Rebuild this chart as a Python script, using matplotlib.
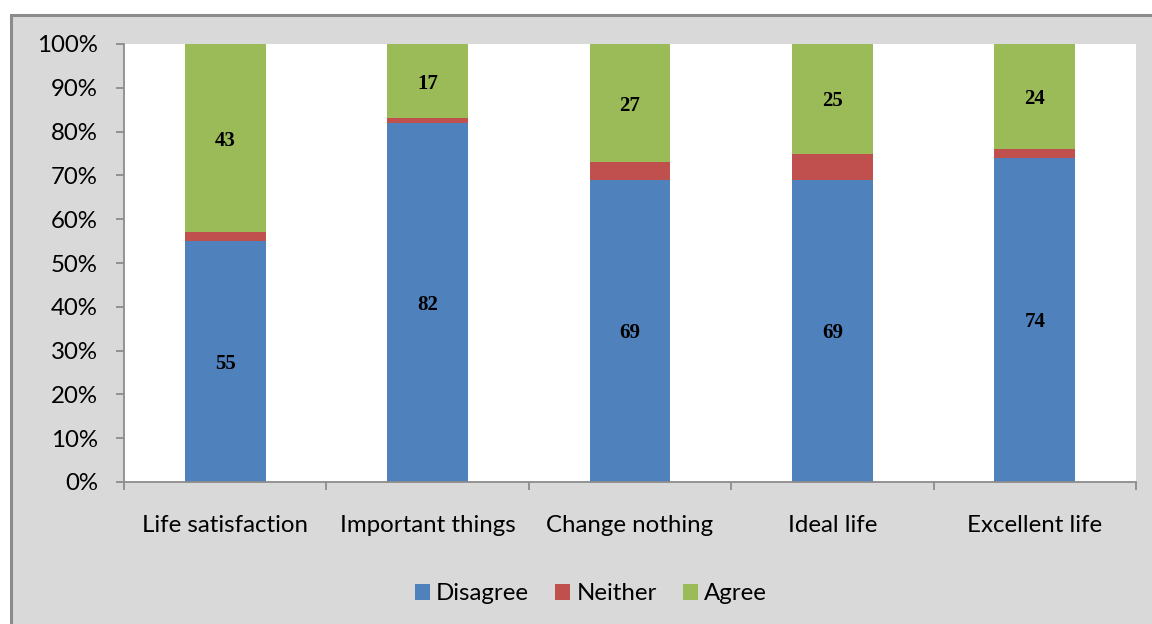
import matplotlib.pyplot as plt
from matplotlib.patches import Rectangle
from matplotlib.ticker import PercentFormatter

# survey responses per item (percent)
items = ["Life satisfaction", "Important things", "Change nothing", "Ideal life", "Excellent life"]
disagree = [55, 82, 69, 69, 74]
neither = [2, 1, 4, 6, 2]
agree = [43, 17, 27, 25, 24]

colors = {"Disagree": "#4f81bd", "Neither": "#c0504d", "Agree": "#9bbb59"}

fig = plt.figure(figsize=(11.52, 6.24), dpi=100, facecolor="white")

# gray chart panel with a border on top and left
panel = Rectangle((10.5 / 1152, -0.01), 1.2, (624 - 14.5) / 624 + 0.01,
                  transform=fig.transFigure, facecolor="#d9d9d9",
                  edgecolor="#8c8c8c", linewidth=2.2, zorder=-1)
fig.patches.append(panel)

ax = fig.add_axes([124 / 1152, 142 / 624, 1012 / 1152, 438 / 624])
ax.set_facecolor("white")
ax.set_zorder(1)

# normalise each item to 100%
totals = [d + n + a for d, n, a in zip(disagree, neither, agree)]
dis_pct = [100 * d / t for d, t in zip(disagree, totals)]
nei_pct = [100 * n / t for n, t in zip(neither, totals)]
agr_pct = [100 * a / t for a, t in zip(agree, totals)]

x = list(range(len(items)))
w = 0.4
b1 = ax.bar(x, dis_pct, w, color=colors["Disagree"], label="Disagree")
bottom2 = dis_pct
b2 = ax.bar(x, nei_pct, w, bottom=bottom2, color=colors["Neither"], label="Neither")
bottom3 = [d + n for d, n in zip(dis_pct, nei_pct)]
b3 = ax.bar(x, agr_pct, w, bottom=bottom3, color=colors["Agree"], label="Agree")

label_font = dict(family="Liberation Serif", fontweight="bold", fontsize=15,
                  ha="center", va="center_baseline", color="black")
for i in x:
    ax.text(i, dis_pct[i] / 2, str(disagree[i]), **label_font)
    ax.text(i, bottom3[i] + agr_pct[i] / 2, str(agree[i]), **label_font)

ax.set_xlim(-0.5, len(items) - 0.5)
ax.set_ylim(0, 100)
ax.set_yticks(range(0, 101, 10))
ax.yaxis.set_major_formatter(PercentFormatter(decimals=0))

ax.set_xticks(x)
ax.set_xticklabels(items)
ax.set_xticks([i - 0.5 for i in range(len(items) + 1)], minor=True)
ax.tick_params(axis="x", which="major", length=0, pad=23.5)
ax.tick_params(axis="x", which="minor", length=5.5, width=1.3, color="#8c8c8c")
ax.tick_params(axis="y", length=5.8, width=1.3, color="#8c8c8c", pad=13)

for lbl in ax.get_xticklabels() + ax.get_yticklabels():
    lbl.set_fontfamily("Lato")
    lbl.set_fontsize(17.3)
    lbl.set_color("black")

for side in ["top", "right"]:
    ax.spines[side].set_visible(False)
for side in ["left", "bottom"]:
    ax.spines[side].set_color("#8c8c8c")
    ax.spines[side].set_linewidth(1.3)

fig.legend(handles=[b1, b2, b3], loc="center", bbox_to_anchor=(591 / 1152, 30 / 624),
           ncol=3, frameon=False, prop={"family": "Lato", "size": 17.3},
           handlelength=0.63, handleheight=0.63, handletextpad=0.25,
           columnspacing=1.1)

fig.savefig("out.png", dpi=100, facecolor=fig.get_facecolor())
